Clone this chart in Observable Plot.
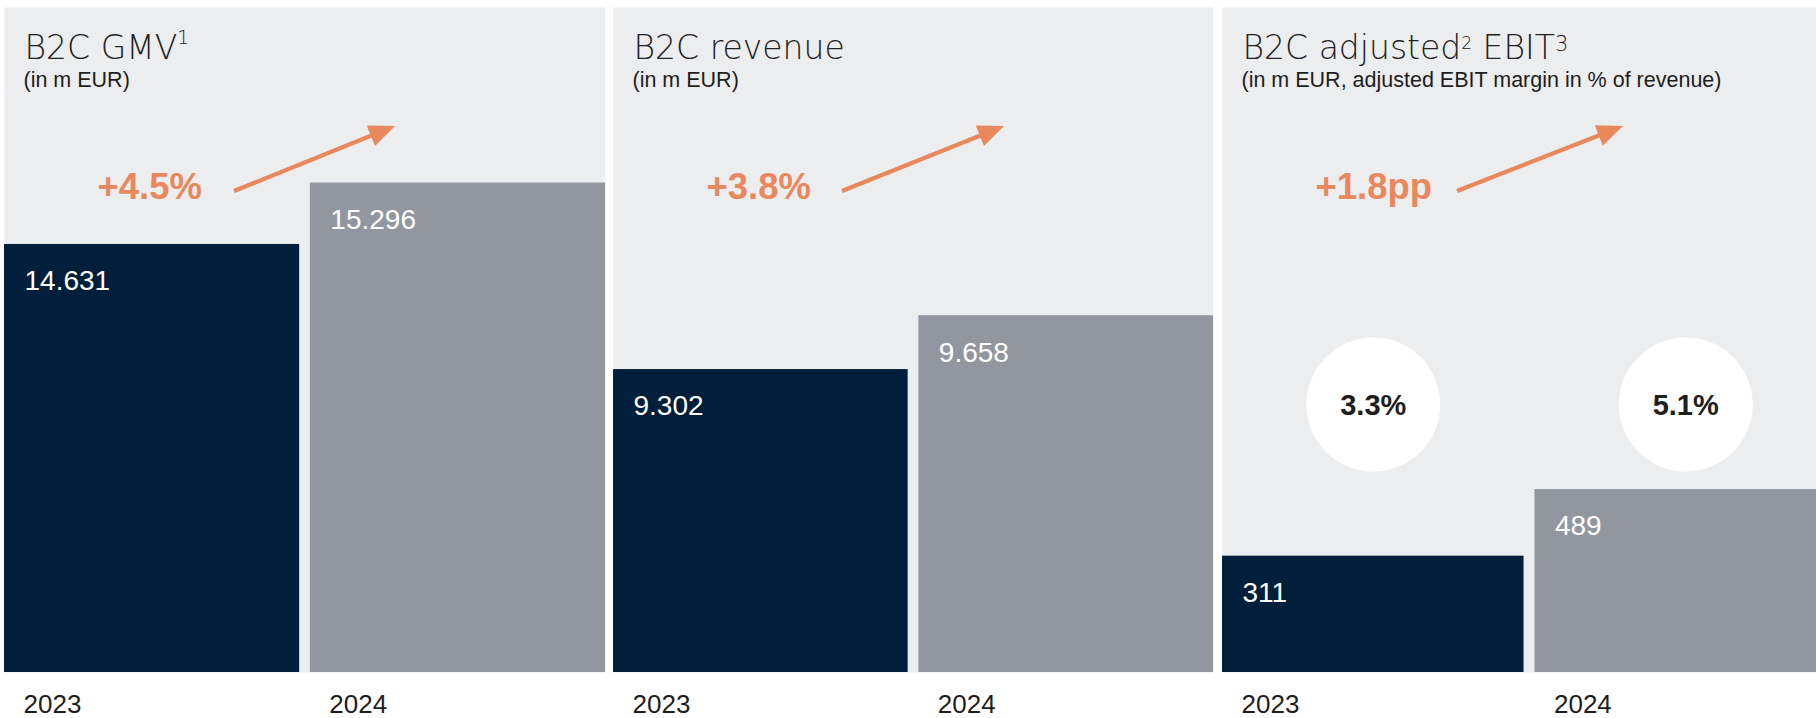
<!DOCTYPE html>
<html><head><meta charset="utf-8">
<script src="https://cdn.jsdelivr.net/npm/d3@7"></script>
<script src="https://cdn.jsdelivr.net/npm/@observablehq/plot@0.6"></script>
<style>
html,body{margin:0;padding:0;background:#fff;overflow:hidden;width:1816px;height:718px;}
#root{position:relative;width:1816px;height:718px;overflow:hidden;}
.panel{position:absolute;top:7px;}
.panel svg{max-width:none !important;}
</style></head><body><div id="root"></div>
<script>
// ---- data ----
const years = ["2023", "2024"];
const panelTitles = ["B2C GMV¹", "B2C revenue", "B2C adjusted² EBIT³"];
const panelSubtitles = ["(in m EUR)", "(in m EUR)", "(in m EUR, adjusted EBIT margin in % of revenue)"];
const gmvValues = [14631, 15296];
const revenueValues = [9302, 9658];
const ebitValues = [311, 489];
const growthLabels = ["+4.5%", "+3.8%", "+1.8pp"];
const ebitMargins = [3.3, 5.1];

// ---- layout / style ----
const series = [gmvValues, revenueValues, ebitValues];
const yDomains = [[10000, 17195], [7300, 11695], [0, 1778]];
const panelLefts = [4, 613, 1222];
const panelWidths = [601, 600, 614];
const arrowLayout = [
  {x1: 230, y1: 184, x2: 391, y2: 119},
  {x1: 229, y1: 184, x2: 391, y2: 119},
  {x1: 235, y1: 184, x2: 401, y2: 119}
];
const NAVY = "#011E3B", GRAY = "#92979F", BG = "#ECEDEF", ORANGE = "#E9885D", INK = "#1E1E1E";
const HEIGHT = 711, MB = 46, PAD = 0.035;
const numFont = "'Liberation Sans', Arial, Helvetica, sans-serif";
const titleFont = "'DejaVu Sans', sans-serif";
const supMap = {"¹": ["1", 15, 19], "²": ["2", 10, 17], "³": ["3", 8, 21]};
const fmt = d3.formatLocale({decimal: ",", thousands: ".", grouping: [3], currency: ["", "€"]}).format(",d");

function arrowMark(a) {
  return (index, scales, values, dims) => {
    const g = d3.create("svg:g");
    const x1 = dims.marginLeft + a.x1, y1 = dims.marginTop + a.y1;
    const x2 = dims.marginLeft + a.x2, y2 = dims.marginTop + a.y2;
    const ang = Math.atan2(y2 - y1, x2 - x1);
    const hl = 26, hw = 11;
    const bx = x2 - hl * Math.cos(ang), by = y2 - hl * Math.sin(ang);
    g.append("line").attr("x1", x1).attr("y1", y1).attr("x2", bx + 2 * Math.cos(ang)).attr("y2", by + 2 * Math.sin(ang))
      .attr("stroke", ORANGE).attr("stroke-width", 4.2);
    const px = -Math.sin(ang), py = Math.cos(ang);
    g.append("path").attr("d", `M${x2},${y2}L${bx + hw * px},${by + hw * py}L${bx - hw * px},${by - hw * py}Z`).attr("fill", ORANGE);
    return g.node();
  };
}

function superscripts(svg) {
  svg.querySelectorAll("text").forEach(t => {
    const s = t.textContent;
    if (!/[¹²³]/.test(s)) return;
    t.textContent = "";
    let pending = 0;
    for (const part of s.split(/([¹²³])/)) {
      if (!part) continue;
      const ts = document.createElementNS("http://www.w3.org/2000/svg", "tspan");
      if (supMap[part]) {
        const [ch, rise, size] = supMap[part];
        ts.textContent = ch;
        ts.setAttribute("font-size", size);
        ts.setAttribute("font-weight", 300);
        ts.setAttribute("dy", -rise);
        pending = rise;
      } else {
        ts.textContent = part;
        if (pending) ts.setAttribute("dy", pending);
        pending = 0;
      }
      t.appendChild(ts);
    }
  });
}

function panel(i) {
  const W = panelWidths[i];
  const data = years.map((year, j) => ({year, value: series[i][j]}));
  const [d0] = yDomains[i];
  const step = W / (2 - PAD);
  const bw = step * (1 - PAD);
  const inset = -bw / 2 + 20;
  const marks = [
    Plot.frame({fill: BG, stroke: "none"}),
    Plot.barY(data, {x: "year", y1: d0, y2: "value", fill: "year"}),
    Plot.text(data, {x: "year", y: "value", text: d => fmt(d.value), textAnchor: "start", lineAnchor: "top",
      dx: inset, dy: 26, fill: "white", fontSize: 28, fontFamily: numFont}),
    Plot.text([panelTitles[i]], {frameAnchor: "top-left", text: d => d, textAnchor: "start", lineAnchor: "top",
      dx: 20, dy: 28, fontSize: 33, fontWeight: 200, fontFamily: titleFont, fill: "#222"}),
    Plot.text([panelSubtitles[i]], {frameAnchor: "top-left", text: d => d, textAnchor: "start", lineAnchor: "top",
      dx: 19, dy: 64, fontSize: 21.5, fontFamily: numFont, fill: INK}),
    Plot.text([growthLabels[i]], {frameAnchor: "top-left", text: d => d, textAnchor: "start", lineAnchor: "top",
      dx: 93, dy: 166, fontSize: 36.5, fontWeight: "bold", fontFamily: numFont, fill: ORANGE}),
    arrowMark(arrowLayout[i]),
    Plot.axisX({tickSize: 0, tickPadding: 22, textAnchor: "start", dx: inset - 1, fontSize: 26,
      fontFamily: numFont, fill: INK, label: null})
  ];
  if (i === 2) {
    const md = years.map((year, j) => ({year, margin: ebitMargins[j]}));
    marks.push(
      Plot.dot(md, {x: "year", frameAnchor: "top", dy: 397, r: 67, fill: "white", stroke: "none"}),
      Plot.text(md, {x: "year", frameAnchor: "top", dy: 398, text: d => d.margin.toFixed(1) + "%",
        lineAnchor: "middle", fontSize: 29, fontWeight: "bold", fontFamily: numFont, fill: INK})
    );
  }
  const svg = Plot.plot({
    width: W, height: HEIGHT,
    marginLeft: 0, marginRight: 0, marginTop: 0, marginBottom: MB,
    x: {domain: years, paddingInner: PAD, paddingOuter: 0, round: false},
    y: {domain: yDomains[i], axis: null},
    color: {domain: years, range: [NAVY, GRAY]},
    style: {background: "transparent", overflow: "visible", fontFamily: numFont, color: INK, maxWidth: "none"},
    marks
  });
  superscripts(svg);
  return svg;
}

const root = document.getElementById("root");
for (let i = 0; i < 3; i++) {
  const div = document.createElement("div");
  div.className = "panel";
  div.style.left = panelLefts[i] + "px";
  div.style.width = panelWidths[i] + "px";
  div.appendChild(panel(i));
  root.appendChild(div);
}
</script></body></html>
